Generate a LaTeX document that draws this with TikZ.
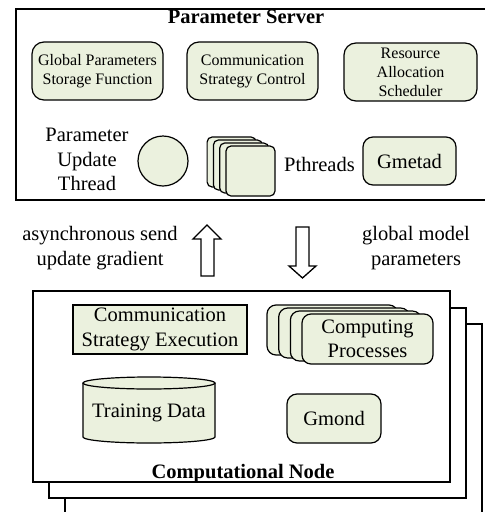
\documentclass[tikz,border=0pt]{standalone}
\usepackage{fontspec}
\setmainfont{Liberation Serif}
\definecolor{boxfill}{HTML}{EBF1DE}
\begin{document}
\begin{tikzpicture}[x=1pt,y=-1pt,
  frame/.style={draw=black, line width=1.5pt, fill=white},
  gbox/.style={draw=black, line width=1.2pt, fill=boxfill, inner sep=0pt, align=center},
  big/.style={font=\fontsize{20.5}{24.5}\selectfont},
  small/.style={font=\fontsize{16}{19}\selectfont},
  bigb/.style={font=\fontsize{20.5}{24.5}\selectfont\bfseries},
  blockarrow/.style={draw=black, line width=1.3pt, fill=white, line join=miter}
]
\useasboundingbox (0,0) rectangle (485,512);

% ---------- Parameter Server ----------
\node[frame, anchor=north west, minimum width=480pt, minimum height=191pt, inner sep=0pt] (ps) at (15,8) {};
\node[bigb, anchor=base] (pstitle) at (246,23.5) {Parameter Server};

\node[gbox, small, rounded corners=12pt, minimum width=131pt, minimum height=58pt] (gps) at (97.5,71) {Global Parameters\\Storage Function};
\node[gbox, small, rounded corners=12pt, minimum width=131pt, minimum height=58pt] (csc) at (252.5,71) {Communication\\Strategy Control};
\node[gbox, small, rounded corners=12pt, minimum width=133pt, minimum height=58pt] (ras) at (410.5,72) {Resource\\Allocation\\Scheduler};

\node[big, align=center] (putext) at (87,159.5) {Parameter\\Update\\Thread};
\node[gbox, circle, minimum size=50pt] (put) at (163,161) {};

\node[gbox, rounded corners=5pt, minimum width=49pt, minimum height=50pt] (pt1) at (231.6,162) {};
\node[gbox, rounded corners=5pt, minimum width=49pt, minimum height=50pt] (pt2) at (237.9,165) {};
\node[gbox, rounded corners=5pt, minimum width=49pt, minimum height=50pt] (pt3) at (244.2,168) {};
\node[gbox, rounded corners=5pt, minimum width=49pt, minimum height=50pt] (pt4) at (250.5,171) {};
\node[big, anchor=base] (pttext) at (319.5,171) {Pthreads};

\node[gbox, big, rounded corners=10pt, minimum width=93pt, minimum height=48pt] (gmetad) at (409.5,161) {Gmetad};

% ---------- arrows and labels ----------
\draw[blockarrow] (201,276) -- (201,239) -- (193,239) -- (207,225) -- (221,239) -- (214,239) -- (214,276) -- cycle;
\draw[blockarrow] (296,227) -- (309,227) -- (309,266) -- (316,266) -- (302.5,278) -- (289,266) -- (296,266) -- cycle;
\node[big, align=center] (uplabel) at (100,248) {asynchronous send\\update gradient};
\node[big, align=center] (downlabel) at (416,248) {global model\\parameters};

% ---------- Computational Node stack ----------
\node[frame, anchor=north west, minimum width=417pt, minimum height=207pt, inner sep=0pt] (cn3) at (64,323) {};
\node[frame, anchor=north west, minimum width=417pt, minimum height=190pt, inner sep=0pt] (cn2) at (48,307) {};
\node[frame, anchor=north west, minimum width=417pt, minimum height=191pt, inner sep=0pt] (cn) at (32,290) {};

\node[gbox, big, minimum width=174pt, minimum height=49pt] (cse) at (160,329.5) {Communication\\Strategy Execution};

\node[gbox, rounded corners=9pt, minimum width=131pt, minimum height=50pt] (cp1) at (332.5,330) {};
\node[gbox, rounded corners=9pt, minimum width=131pt, minimum height=50pt] (cp2) at (344.2,333) {};
\node[gbox, rounded corners=9pt, minimum width=131pt, minimum height=50pt] (cp3) at (355.9,336) {};
\node[gbox, big, rounded corners=9pt, minimum width=131pt, minimum height=50pt] (cp4) at (367.5,339) {Computing\\Processes};

% cylinder
\path[fill=boxfill] (83,383) -- (83,437) arc[start angle=180, end angle=0, x radius=66, y radius=6] -- (215,383) -- cycle;
\draw[line width=1.2pt] (83,383) -- (83,437) arc[start angle=180, end angle=0, x radius=66, y radius=6] -- (215,383);
\draw[line width=1.2pt, fill=boxfill] (149,383) ellipse[x radius=66, y radius=6];
\node[big] (td) at (149,413) {Training Data};

\node[gbox, big, rounded corners=10pt, minimum width=94pt, minimum height=49pt] (gmond) at (334,418.5) {Gmond};

\node[bigb, anchor=base] (cntitle) at (243,478) {Computational Node};
\end{tikzpicture}
\end{document}
